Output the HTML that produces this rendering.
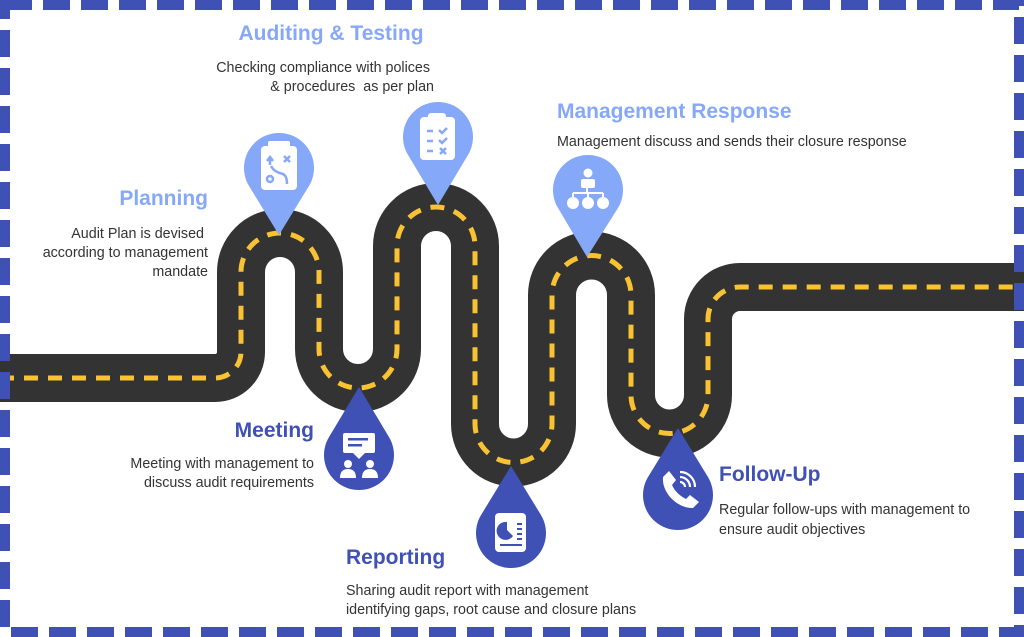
<!DOCTYPE html>
<html><head><meta charset="utf-8"><style>
html,body{margin:0;padding:0;background:#fff;}
svg{display:block;}
text{font-family:"Liberation Sans",sans-serif;}
.t{font-weight:bold;font-size:21px;}
.b{font-size:14.3px;fill:#333;}
</style></head><body>
<svg width="1024" height="637" viewBox="0 0 1024 637" xmlns="http://www.w3.org/2000/svg">
<rect x="0" y="0" width="1024" height="637" fill="#fff"/>
<!-- road -->
<path d="M0,378 H215 A26,26 0 0 0 241,352 V272 A39,39 0 0 1 319,272 V349 A39,39 0 0 0 397,349 V246 A39,39 0 0 1 475,246 V424 A38.5,38.5 0 0 0 552,424 V295 A39.5,39.5 0 0 1 631,295 V395 A38.5,38.5 0 0 0 708,395 V319 A32,32 0 0 1 740,287 H1024" fill="none" stroke="#333" stroke-width="48" stroke-linejoin="round"/>
<path d="M0,378 H215 A26,26 0 0 0 241,352 V272 A39,39 0 0 1 319,272 V349 A39,39 0 0 0 397,349 V246 A39,39 0 0 1 475,246 V424 A38.5,38.5 0 0 0 552,424 V295 A39.5,39.5 0 0 1 631,295 V395 A38.5,38.5 0 0 0 708,395 V319 A32,32 0 0 1 740,287 H1024" fill="none" stroke="#f8c232" stroke-width="5" stroke-dasharray="14 10"/>

<!-- light pins (tip down) -->
<g fill="#86a8f8">
<path d="M279,235 L249.2,186.3 A35,35 0 1 1 308.8,186.3 Z"/>
<path d="M438,205 L408.2,155.3 A35,35 0 1 1 467.8,155.3 Z"/>
<path d="M587,257 L558.2,208.3 A35,35 0 1 1 617.8,208.3 Z"/>
</g>
<!-- dark drops (tip up) -->
<g fill="#3f51b5">
<path d="M359,387 L388.8,436.7 A35,35 0 1 1 329.2,436.7 Z"/>
<path d="M511,466 L540.8,514.7 A35,35 0 1 1 481.2,514.7 Z"/>
<path d="M678,428 L707.8,476.7 A35,35 0 1 1 648.2,476.7 Z"/>
</g>

<!-- icons -->
<g fill="#fff">
<rect x="261" y="146" width="36" height="44" rx="4"/>
<rect x="268" y="141" width="22" height="7" rx="2"/>
<g stroke="#86a8f8" stroke-width="2.5" fill="none">
<path d="M270,165 V158 M267,161 L270,157 L273,161 M271,166 Q274,172 283,174 Q287,176 287,184"/>
<circle cx="270" cy="179" r="3"/>
<path d="M284,156 L290,162 M290,156 L284,162"/>
</g>
<rect x="420" y="117" width="35" height="43" rx="4"/>
<rect x="428" y="113" width="18" height="7" rx="3"/>
<g stroke="#86a8f8" stroke-width="2.5" fill="none">
<path d="M427,131 H433 M427,141 H433 M427,151 H433"/>
<path d="M439,130 L442,133 L447,128 M439,140 L442,143 L447,138 M440,148 L446,154 M446,148 L440,154"/>
</g>
<circle cx="588" cy="173" r="4.5"/>
<rect x="581" y="179" width="14" height="9" rx="2"/>
<path d="M587,188 V193 M573,193 H603 M573,193 V198 M588,193 V198 M603,193 V198" stroke="#fff" stroke-width="2" fill="none"/>
<circle cx="573" cy="203" r="6"/><circle cx="588" cy="203" r="6"/><circle cx="603" cy="203" r="6"/>
<rect x="343" y="433" width="32" height="20" rx="2"/>
<path d="M353,453 L359,459 L365,453 Z"/>
<rect x="348" y="438" width="20" height="2.5" fill="#3f51b5"/>
<rect x="348" y="444" width="14" height="2.5" fill="#3f51b5"/>
<circle cx="348" cy="464" r="4"/><circle cx="370" cy="464" r="4"/>
<path d="M340,478 Q340,469 348,469 Q356,469 356,478 Z M362,478 Q362,469 370,469 Q378,469 378,478 Z"/>
<rect x="495" y="513" width="31" height="39" rx="4"/>
<g fill="#3f51b5">
<path d="M507,522 A9,9 0 1 0 513,536 L507,530 Z"/>
<rect x="517" y="523" width="5" height="2"/><rect x="517" y="528" width="5" height="2"/><rect x="517" y="533" width="5" height="2"/><rect x="517" y="538" width="5" height="2"/>
<rect x="500" y="544" width="22" height="2"/>
</g>
<path d="M663,477 L669,471 L676,480 L672,485 Q676,494 686,499 L690,495 L699,502 L693,508 Q680,508 670,497 Q662,487 663,477 Z"/>
<path d="M680,482 A5,5 0 0 1 685,487 M680,477 A10,10 0 0 1 690,487 M680,472 A15,15 0 0 1 695,487" stroke="#fff" stroke-width="2.2" fill="none"/>
</g>

<!-- text -->
<text class="t" x="331" y="40" text-anchor="middle" fill="#86a8f8">Auditing &amp; Testing</text>
<text class="b" x="430" y="72" text-anchor="end">Checking compliance with polices</text>
<text class="b" x="434" y="91" text-anchor="end" xml:space="preserve">&amp; procedures  as per plan</text>

<text class="t" x="208" y="205" text-anchor="end" fill="#86a8f8">Planning</text>
<text class="b" x="204" y="238" text-anchor="end">Audit Plan is devised</text>
<text class="b" x="208" y="257" text-anchor="end">according to management</text>
<text class="b" x="208" y="276" text-anchor="end">mandate</text>

<text class="t" x="557" y="118" fill="#86a8f8">Management Response</text>
<text class="b" x="557" y="146">Management discuss and sends their closure response</text>

<text class="t" x="314" y="437" text-anchor="end" fill="#3f51b5">Meeting</text>
<text class="b" x="314" y="468" text-anchor="end">Meeting with management to</text>
<text class="b" x="314" y="487" text-anchor="end">discuss audit requirements</text>

<text class="t" x="346" y="564" fill="#3f51b5">Reporting</text>
<text class="b" x="346" y="595">Sharing audit report with management</text>
<text class="b" x="346" y="614">identifying gaps, root cause and closure plans</text>

<text class="t" x="719" y="481" fill="#3f51b5">Follow-Up</text>
<text class="b" x="719" y="514">Regular follow-ups with management to</text>
<text class="b" x="719" y="534">ensure audit objectives</text>

<!-- border -->
<rect x="5" y="5" width="1014" height="627" fill="none" stroke="#3f51b5" stroke-width="10" stroke-dasharray="27 11"/>
</svg>
</body></html>
